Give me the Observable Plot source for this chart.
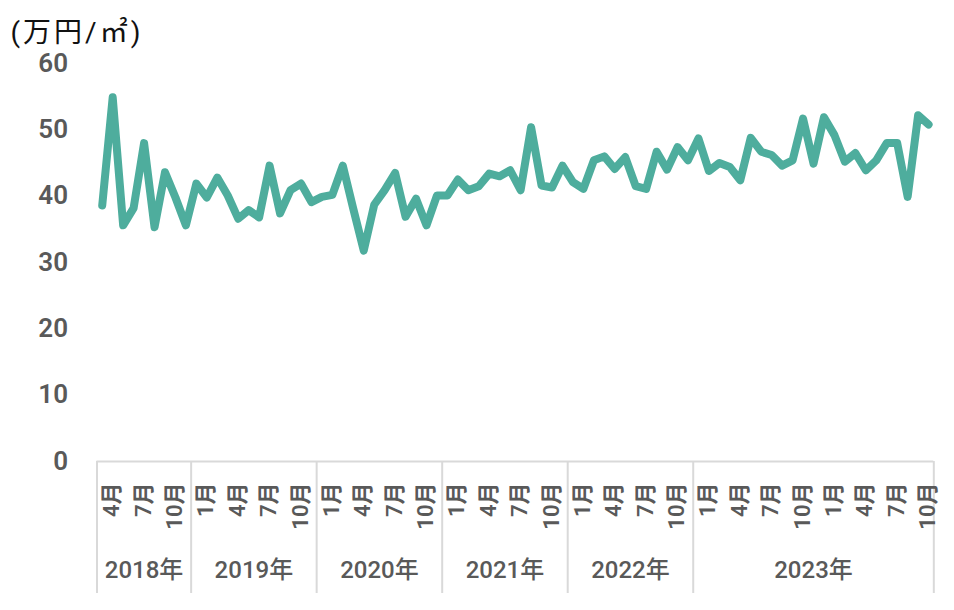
<!DOCTYPE html>
<html><head><meta charset="utf-8">
<script src="https://cdn.jsdelivr.net/npm/d3@7"></script>
<script src="https://cdn.jsdelivr.net/npm/@observablehq/plot@0.6"></script>
<style>body{margin:0;background:#fff;} #c{width:954px;height:610px;}</style>
</head><body><div id="c"></div>
<script>
// Monthly values (万円/㎡), April 2018 – November 2024
const values = [
  38.6,54.9,35.6,38.2,48.0,35.3,43.6,39.8,35.6,            // 2018 Apr–Dec
  41.9,39.8,42.8,40.1,36.6,37.9,36.8,44.6,37.4,40.9,41.9,39.1, // 2019
  39.9,40.2,44.6,38.1,31.8,38.7,40.9,43.5,36.9,39.6,35.6,40.1, // 2020
  40.1,42.5,40.9,41.5,43.4,43.0,43.9,40.9,50.4,41.6,41.3,44.6, // 2021
  42.1,41.1,45.4,46.0,44.1,45.9,41.5,41.1,46.7,44.0,47.4,45.4, // 2022
  48.7,43.8,45.0,44.4,42.4,48.8,46.7,46.2,44.6,45.4,51.7,44.9, // 2023
  51.9,49.2,45.2,46.5,43.9,45.4,48.0,48.0,39.9,52.2,50.8       // 2024 Jan–Nov
];
const startYear = 2018, startMonth = 4;
const shownMonths = [1, 4, 7, 10];
const groupLabels = {2018:"2018年",2019:"2019年",2020:"2020年",2021:"2021年",2022:"2022年",2023:"2023年",2024:"2023年"};
const yTicks = [0, 10, 20, 30, 40, 50, 60];
const unitLabel = "(万円/㎡)";

// categories
const cats = values.map((v, i) => {
  const m0 = startMonth - 1 + i;
  return {i, v, year: startYear + Math.floor(m0 / 12), month: (m0 % 12) + 1};
});
const monthTicks = cats.filter(d => shownMonths.includes(d.month)).map(d => ({i: d.i, label: d.month + "月"}));
const groups = [];
for (const d of cats) {
  const g = groupLabels[d.year];
  if (!groups.length || groups[groups.length - 1].label !== g) groups.push({label: g, first: d.i, last: d.i});
  else groups[groups.length - 1].last = d.i;
}
const bounds = [groups[0].first - 0.5, ...groups.map(g => g.last + 0.5)];

const gray = "#595959";
const chart = Plot.plot({
  width: 954, height: 610,
  marginTop: 63, marginBottom: 149, marginLeft: 96.5, marginRight: 20.7,
  x: {domain: [-0.5, values.length - 0.5], axis: null},
  y: {domain: [0, 60], axis: null},
  style: {fontFamily: "Roboto, 'Noto Sans CJK JP', sans-serif", background: "white", overflow: "visible"},
  marks: [
    Plot.ruleY([0], {stroke: "#d9d9d9", strokeWidth: 2}),
    Plot.ruleX(bounds, {x: d => d, stroke: "#d9d9d9", strokeWidth: 2, insetTop: 398, insetBottom: -132}),
    Plot.text(yTicks, {y: d => d, text: d => String(d), frameAnchor: "left", dx: -29, textAnchor: "end",
      fontSize: 26, fontWeight: 600, fill: gray}),
    Plot.text(monthTicks, {x: "i", text: "label", frameAnchor: "bottom", rotate: -90, textAnchor: "end",
      lineAnchor: "middle", dy: 21, dx: 10, fontSize: 22, fontWeight: 600, fill: gray}),
    Plot.text(groups, {x: g => (g.first + g.last) / 2, text: "label", frameAnchor: "bottom", lineAnchor: "middle",
      dy: 109, fontSize: 24, fontWeight: 500, fill: gray}),
    Plot.text([unitLabel], {text: d => d, frameAnchor: "top-left", lineAnchor: "middle", dx: -86.5, dy: -30,
      textAnchor: "start", fontSize: 28, fill: "#111", className: "unit"}),
    Plot.line(cats, {x: "i", y: "v", stroke: "#4EAD9D", strokeWidth: 8, strokeLinejoin: "round", strokeLinecap: "round"})
  ]
});
chart.querySelectorAll(".unit text").forEach(t => t.setAttribute("letter-spacing", "3"));
document.getElementById("c").appendChild(chart);
</script>
</body></html>
